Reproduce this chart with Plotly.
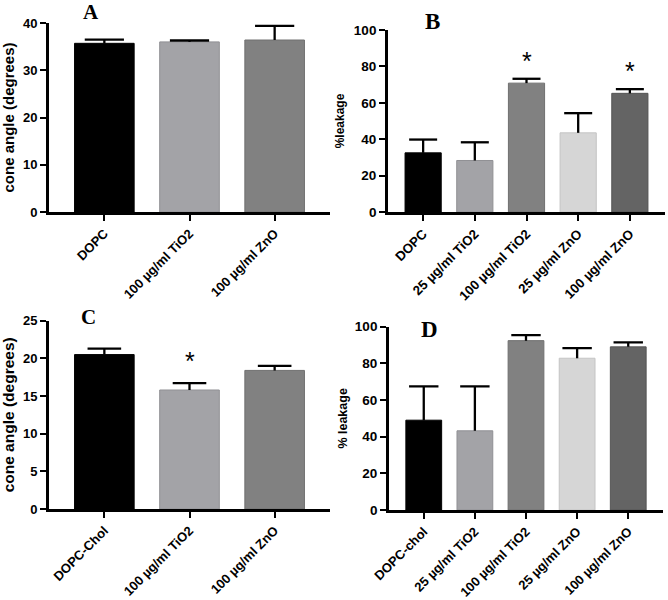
import plotly.graph_objects as go

# ---------------- data ----------------
cats_A = ["DOPC", "100 µg/ml TiO2", "100 µg/ml ZnO"]
vals_A = [35.7, 36.0, 36.4]
err_A = [0.8, 0.3, 3.0]

cats_B = ["DOPC", "25 µg/ml TiO2", "100 µg/ml TiO2", "25 µg/ml ZnO", "100 µg/ml ZnO"]
vals_B = [32.5, 28.3, 70.8, 43.5, 65.2]
err_B = [7.3, 10.0, 2.4, 10.8, 2.3]
stars_B = [None, None, "*", None, "*"]

cats_C = ["DOPC-Chol", "100 µg/ml TiO2", "100 µg/ml ZnO"]
vals_C = [20.5, 15.8, 18.4]
err_C = [0.8, 0.9, 0.6]
stars_C = [None, "*", None]

cats_D = ["DOPC-chol", "25 µg/ml TiO2", "100 µg/ml TiO2", "25 µg/ml ZnO", "100 µg/ml ZnO"]
vals_D = [49.0, 43.2, 92.4, 82.8, 89.0]
err_D = [18.4, 24.2, 3.0, 5.5, 2.5]

colors3 = ["#000000", "#a3a3a7", "#818181"]
colors5 = ["#000000", "#a3a3a7", "#818181", "#d6d6d6", "#646464"]
edges3 = ["#000000", "#909094", "#707070"]
edges5 = ["#000000", "#909094", "#707070", "#c4c4c4", "#555555"]

FONT = "Liberation Sans, Arial, sans-serif"
SERIF = "Liberation Serif, Times New Roman, serif"

fig = go.Figure()


def add_panel(idx, cats, vals, errs, colors, edges, capw):
    xa = "x" if idx == 1 else f"x{idx}"
    ya = "y" if idx == 1 else f"y{idx}"
    fig.add_trace(go.Bar(
        x=cats, y=vals, width=0.7,
        marker=dict(color=colors, line=dict(color=edges, width=1)),
        xaxis=xa, yaxis=ya, showlegend=False, hoverinfo="x+y",
    ))
    # one-sided (upper) error bars: stem + cap
    sx, sy = [], []
    for c, v, e in zip(cats, vals, errs):
        sx += [c, c, None]
        sy += [v, v + e, None]
    fig.add_trace(go.Scatter(
        x=sx, y=sy, mode="lines", line=dict(color="black", width=2.3),
        xaxis=xa, yaxis=ya, showlegend=False, hoverinfo="skip",
    ))
    fig.add_trace(go.Scatter(
        x=cats, y=[v + e for v, e in zip(vals, errs)], mode="markers",
        marker=dict(symbol="line-ew", size=capw, color="black",
                    line=dict(color="black", width=2.3)),
        xaxis=xa, yaxis=ya, showlegend=False, hoverinfo="skip",
    ))


add_panel(1, cats_A, vals_A, err_A, colors3, edges3, 28)
add_panel(2, cats_B, vals_B, err_B, colors5, edges5, 20)
add_panel(3, cats_C, vals_C, err_C, colors3, edges3, 24)
add_panel(4, cats_D, vals_D, err_D, colors5, edges5, 21)


def xaxis_cfg(domain, anchor, rng, fs):
    return dict(domain=domain, anchor=anchor, type="category", range=rng,
                automargin=False,
                showline=True, linewidth=2.8, linecolor="black",
                ticks="outside", ticklen=6, tickwidth=2.3, tickcolor="black",
                tickangle=-45, showgrid=False, zeroline=False,
                tickfont=dict(family=FONT, size=fs, color="black", weight="bold"))


def yaxis_cfg(domain, anchor, rng, dtick, title, tfs, fs, standoff):
    return dict(domain=domain, anchor=anchor, range=rng, dtick=dtick,
                automargin=False,
                showline=True, linewidth=2.8, linecolor="black",
                ticks="outside", ticklen=6, tickwidth=2.3, tickcolor="black",
                showgrid=False, zeroline=False,
                tickfont=dict(family=FONT, size=fs, color="black", weight="bold"),
                title=dict(text=title, standoff=standoff,
                           font=dict(family=FONT, size=tfs, color="black", weight="bold")))


W, H = 668, 600
dA = [49 / W, 330 / W]
dB = [388 / W, 665 / W]
dD = [389 / W, 663 / W]

fig.update_layout(
    template="none",
    width=W, height=H,
    margin=dict(l=0, r=0, t=0, b=0, autoexpand=False),
    plot_bgcolor="white", paper_bgcolor="white",
    bargap=0.3,
    xaxis=xaxis_cfg(dA, "y", [-0.65, 2.65], 13),
    yaxis=yaxis_cfg([1 - 212 / H, 1 - 23 / H], "x", [0, 40], 10,
                    "cone angle (degrees)", 15, 13, 6),
    xaxis2=xaxis_cfg(dB, "y2", [-0.68, 4.68], 13.3),
    yaxis2=yaxis_cfg([1 - 212 / H, 1 - 30 / H], "x2", [0, 100], 20,
                     "%leakage", 12, 13.5, 7),
    xaxis3=xaxis_cfg(dA, "y3", [-0.65, 2.65], 13),
    yaxis3=yaxis_cfg([1 - 509 / H, 1 - 320.7 / H], "x3", [0, 25], 5,
                     "cone angle (degrees)", 15.5, 13, 6),
    xaxis4=xaxis_cfg(dD, "y4", [-0.68, 4.68], 13),
    yaxis4=yaxis_cfg([1 - 510 / H, 1 - 326.7 / H], "x4", [0, 100], 20,
                     "% leakage", 12.5, 13.5, 5),
)

annotations = []
# panel letters
for txt, px, py, fs in [("A", 91, 12, 21), ("B", 432, 21, 23),
                        ("C", 88, 317, 21), ("D", 429, 329, 23)]:
    annotations.append(dict(text=f"<b>{txt}</b>", x=px / W, y=1 - py / H,
                            xref="paper", yref="paper", showarrow=False,
                            xanchor="center", yanchor="middle",
                            font=dict(family=SERIF, size=fs, color="black")))
# significance stars
for c, v, e, s in zip(cats_B, vals_B, err_B, stars_B):
    if s:
        annotations.append(dict(text=s, x=c, y=v + e, xref="x2", yref="y2",
                                showarrow=False, yanchor="bottom", yshift=2,
                                font=dict(family=FONT, size=25, color="black")))
for c, v, e, s in zip(cats_C, vals_C, err_C, stars_C):
    if s:
        annotations.append(dict(text=s, x=c, y=v + e, xref="x3", yref="y3",
                                showarrow=False, yanchor="bottom", yshift=6,
                                font=dict(family=FONT, size=25, color="black")))
fig.update_layout(annotations=annotations)

fig.write_html("out.html", config={"displayModeBar": False},
               post_script="document.body.style.margin='0';document.body.style.overflow='hidden';")
